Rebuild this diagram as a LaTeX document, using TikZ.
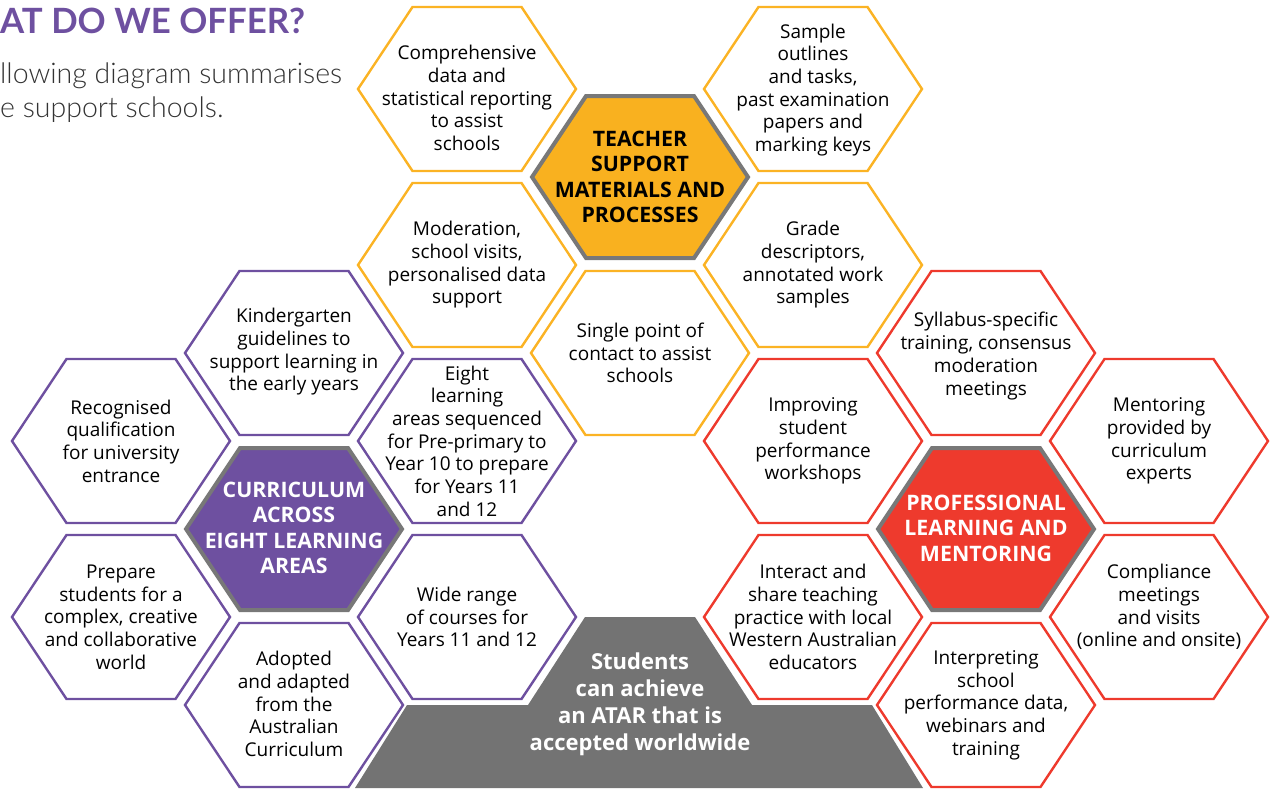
\documentclass[tikz,border=0pt]{standalone}
\usepackage{fontspec}
\setmainfont{Open Sans}
\newfontfamily\latofont{Lato}
\IfFontExistsTF{Lato Light}{\newfontfamily\latolight{Lato Light}}{\newfontfamily\latolight{Lato}}
\IfFontExistsTF{Open Sans SemiBold}{\newfontfamily\semib{Open Sans SemiBold}}{\newfontfamily\semib{Open Sans}[UprightFont=*-Bold]}
\definecolor{cyel}{HTML}{FBB324}
\definecolor{cyelfill}{HTML}{F9B11F}
\definecolor{cpur}{HTML}{6E50A0}
\definecolor{cred}{HTML}{EE3A2D}
\definecolor{cgry}{HTML}{737373}
\definecolor{cbord}{HTML}{787878}
\definecolor{csub}{HTML}{333333}
\newcommand\hexo[2]{(#1-109,#2) -- (#1-54.5,#2-82) -- (#1+54.5,#2-82) -- (#1+109,#2) -- (#1+54.5,#2+82) -- (#1-54.5,#2+82) -- cycle}
\newcommand\hexc[2]{(#1-108,#2) -- (#1-54,#2-81) -- (#1+54,#2-81) -- (#1+108,#2) -- (#1+54,#2+81) -- (#1-54,#2+81) -- cycle}
\tikzset{
  hexline/.style={line width=2.4pt, line join=miter},
  hexcore/.style={line width=4pt, draw=cbord, line join=miter},
  txt/.style={align=center, inner sep=0pt, text=black, font=\fontsize{19}{22.7}\selectfont},
  coretxt/.style={align=center, inner sep=0pt, font=\semib\fontsize{21.3}{25.5}\selectfont},
}
\begin{document}
\begin{tikzpicture}[x=1pt,y=-1pt]
\useasboundingbox (0,0) rectangle (1273,788);
% title
\node[anchor=base west, inner sep=0pt, text=cpur, font=\latofont\bfseries\fontsize{34.8}{40}\selectfont] (title) at (0,33) {AT DO WE OFFER?};
\node[anchor=base west, inner sep=0pt, text=csub, font=\latolight\fontsize{28.5}{32}\selectfont] (sub1) at (0,83) {llowing diagram summarises};
\node[anchor=base west, inner sep=0pt, text=csub, font=\latolight\fontsize{28.5}{32}\selectfont] (sub2) at (0,117) {e support schools.};
% yellow group
\draw[hexline, draw=cyel] \hexo{467}{89};
\draw[hexline, draw=cyel] \hexo{467}{265};
\draw[hexline, draw=cyel] \hexo{813}{89};
\draw[hexline, draw=cyel] \hexo{813}{265};
\draw[hexline, draw=cyel] \hexo{640}{353};
\draw[hexcore, fill=cyelfill] \hexc{640}{177};
% purple group
\draw[hexline, draw=cpur] \hexo{294}{353};
\draw[hexline, draw=cpur] \hexo{294}{705};
\draw[hexline, draw=cpur] \hexo{121}{441};
\draw[hexline, draw=cpur] \hexo{121}{617};
\draw[hexline, draw=cpur] \hexo{467}{441};
\draw[hexline, draw=cpur] \hexo{467}{617};
\draw[hexcore, fill=cpur] \hexc{294}{529};
% red group
\draw[hexline, draw=cred] \hexo{813}{441};
\draw[hexline, draw=cred] \hexo{813}{617};
\draw[hexline, draw=cred] \hexo{986}{353};
\draw[hexline, draw=cred] \hexo{986}{705};
\draw[hexline, draw=cred] \hexo{1159}{441};
\draw[hexline, draw=cred] \hexo{1159}{617};
\draw[hexcore, fill=cred] \hexc{986}{529};
% students shape
\fill[cgry] (585,617) -- (695,617) -- (752,705) -- (872,705) -- (923,788) -- (355,788) -- (407,705) -- (528,705) -- cycle;
% texts
\node[txt] (comp) at (467,98) {Comprehensive\\data and\\statistical reporting\\to assist\\schools};
\node[txt] (mod) at (467,265) {Moderation,\\school visits,\\personalised data\\support};
\node[txt] (eight) at (467,441) {Eight\\learning\\areas sequenced\\for Pre-primary to\\Year 10 to prepare\\for Years 11\\and 12};
\node[txt] (wide) at (467,617) {Wide range\\of courses for\\Years 11 and 12};
\node[txt] (kind) at (294,352) {Kindergarten\\guidelines to\\support learning in\\the early years};
\node[txt] (adopt) at (294,704) {Adopted\\and adapted\\from the\\Australian\\Curriculum};
\node[txt] (recog) at (121,441) {Recognised\\qualification\\for university\\entrance};
\node[txt] (prep) at (121,617) {Prepare\\students for a\\complex, creative\\and collaborative\\world};
\node[txt] (single) at (640,353) {Single point of\\contact to assist\\schools};
\node[txt] (sample) at (813,90) {Sample\\outlines\\and tasks,\\past examination\\papers and\\marking keys};
\node[txt] (grade) at (813,265) {Grade\\descriptors,\\annotated work\\samples};
\node[txt] (impr) at (813,441) {Improving\\student\\performance\\workshops};
\node[txt] (inter) at (813,617) {Interact and\\share teaching\\practice with local\\Western Australian\\educators};
\node[txt] (syll) at (986,356) {Syllabus-specific\\training, consensus\\moderation\\meetings};
\node[txt] (interp) at (986,705) {Interpreting\\school\\performance data,\\webinars and\\training};
\node[txt] (ment) at (1159,441) {Mentoring\\provided by\\curriculum\\experts};
\node[txt] (compl) at (1159,607) {Compliance\\meetings\\and visits\\(online and onsite)};
\node[coretxt, text=black] (teach) at (640,177) {TEACHER\\SUPPORT\\MATERIALS AND\\PROCESSES};
\node[coretxt, text=white] (curr) at (294,528) {CURRICULUM\\ACROSS\\EIGHT LEARNING\\AREAS};
\node[coretxt, text=white] (prof) at (986,528) {PROFESSIONAL\\LEARNING AND\\MENTORING};
\node[coretxt, text=white, font=\semib\fontsize{22}{27}\selectfont] (stud) at (640,704) {Students\\can achieve\\an ATAR that is\\accepted worldwide};
\end{tikzpicture}
\end{document}
